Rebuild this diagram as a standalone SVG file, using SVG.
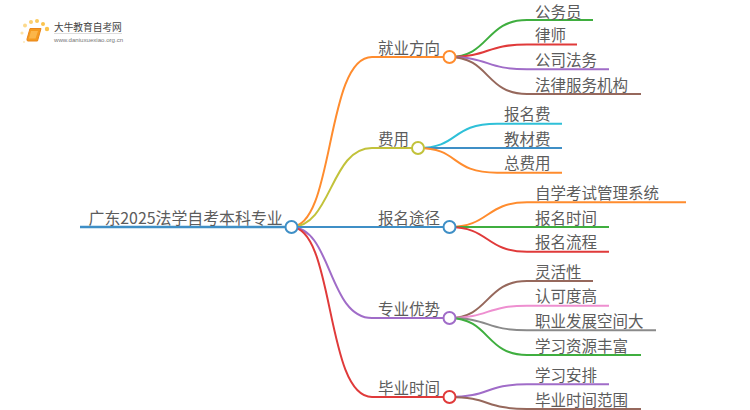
<svg xmlns="http://www.w3.org/2000/svg" width="750" height="410" viewBox="0 0 750 410">
<style>
text{font-family:"Noto Sans CJK SC","Liberation Sans",sans-serif;fill:#5c5c5c;font-size:15.500px}
.c path{fill:none;stroke-width:2}
circle.n{fill:#fff;stroke-width:2}
.o{stroke:#ff8c2e}.y{stroke:#c2c23a}.b{stroke:#3f8fc6}.p{stroke:#a06cc8}.r{stroke:#e03a3a}
.g{stroke:#3fae3f}.br{stroke:#96685c}.cy{stroke:#2fc0d8}.pk{stroke:#ee8fd0}.gy{stroke:#8a8a8a}
</style>
<g id="logo">
<circle cx="22" cy="33" r="1.6" fill="#fde3a8"/><circle cx="25" cy="25.500" r="2" fill="#fcd98c"/><circle cx="31" cy="22" r="2" fill="#fbcf70"/><circle cx="37" cy="21" r="2" fill="#fbc95c"/><circle cx="43" cy="24" r="2" fill="#fbc34c"/><circle cx="47" cy="29" r="2.200" fill="#fbc34c"/><circle cx="24" cy="42" r="1" fill="#fde9bd"/>
<path d="M30 28.500H41L37.500 41H28Q26.500 41 27 39Z" fill="#f59a1e" stroke="#e8861a"/>
<path d="M31 31H38L35.500 38.500H29Z" fill="#fbb64a"/>
<text x="54" y="31" style="font-size:9.700px;fill:#444">大牛教育自考网</text>
<path d="M54 33.500H122" stroke="#ddd" fill="none"/>
<text x="54" y="41.500" style="font-size:6.100px;font-family:'Liberation Sans',sans-serif;fill:#777">www.daniuxuexiao.org.cn</text>
</g>
<g id="connectors" class="c">
<path class="b" style="stroke-width:2.500" d="M80 227H291"/>
<path class="o" d="M291 227C335 227 325 57 372 57H449"/>
<path class="y" d="M291 227C332 227 330 148 372 148H418"/>
<path class="b" d="M291 227H449"/>
<path class="p" d="M291 227C332 227 328 318 372 318H449"/>
<path class="r" d="M291 227C335 227 325 397 372 397H449"/>
<path class="g" d="M449 57C490 57 485 20 527 20H593"/>
<path class="r" d="M449 57C490 57 485 44.500 527 44.500H577"/>
<path class="p" d="M449 57C490 57 485 69.300 527 69.300H609"/>
<path class="br" d="M449 57C490 57 485 94 527 94H641"/>
<path class="cy" d="M418 148C460 148 450 123.700 497 123.700H562"/>
<path class="b" d="M418 148H562"/>
<path class="o" d="M418 148C460 148 450 172.700 497 172.700H562"/>
<path class="o" d="M449 227C490 227 485 202.300 527 202.300H686"/>
<path class="g" d="M449 227H609"/>
<path class="r" d="M449 227C490 227 485 251.700 527 251.700H609"/>
<path class="br" d="M449 318C490 318 485 281 527 281H593"/>
<path class="pk" d="M449 318C490 318 485 305.700 527 305.700H609"/>
<path class="gy" d="M449 318C490 318 485 330.300 527 330.300H656"/>
<path class="g" d="M449 318C490 318 485 355 527 355H641"/>
<path class="p" d="M449 397C490 397 485 384.300 527 384.300H609"/>
<path class="br" d="M449 397C490 397 485 409 527 409H641"/>
</g>
<g id="root"><circle class="n b" cx="291.500" cy="227" r="6"/><text x="88.500" y="223.500" style="font-size:15.900px">广东2025法学自考本科专业</text></g>
<g id="n1"><circle class="n o" cx="449.500" cy="57" r="6"/><text x="378" y="53.500">就业方向</text></g>
<g id="n2"><circle class="n y" cx="418" cy="148" r="6"/><text x="378" y="144.500">费用</text></g>
<g id="n3"><circle class="n b" cx="449.500" cy="227" r="6"/><text x="378" y="223.500">报名途径</text></g>
<g id="n4"><circle class="n p" cx="449.500" cy="318" r="6"/><text x="378" y="314.500">专业优势</text></g>
<g id="n5"><circle class="n r" cx="449.500" cy="397" r="6"/><text x="378" y="393.500">毕业时间</text></g>
<g id="l1"><text x="535" y="18">公务员</text></g>
<g id="l2"><text x="535" y="41">律师</text></g>
<g id="l3"><text x="535" y="65.500">公司法务</text></g>
<g id="l4"><text x="535" y="90.500">法律服务机构</text></g>
<g id="l5"><text x="504" y="120">报名费</text></g>
<g id="l6"><text x="504" y="144.500">教材费</text></g>
<g id="l7"><text x="504" y="169">总费用</text></g>
<g id="l8"><text x="535" y="198.500">自学考试管理系统</text></g>
<g id="l9"><text x="535" y="223.500">报名时间</text></g>
<g id="l10"><text x="535" y="248">报名流程</text></g>
<g id="l11"><text x="535" y="277.500">灵活性</text></g>
<g id="l12"><text x="535" y="302">认可度高</text></g>
<g id="l13"><text x="535" y="327">职业发展空间大</text></g>
<g id="l14"><text x="535" y="351.500">学习资源丰富</text></g>
<g id="l15"><text x="535" y="381">学习安排</text></g>
<g id="l16"><text x="535" y="405.500">毕业时间范围</text></g>
</svg>
